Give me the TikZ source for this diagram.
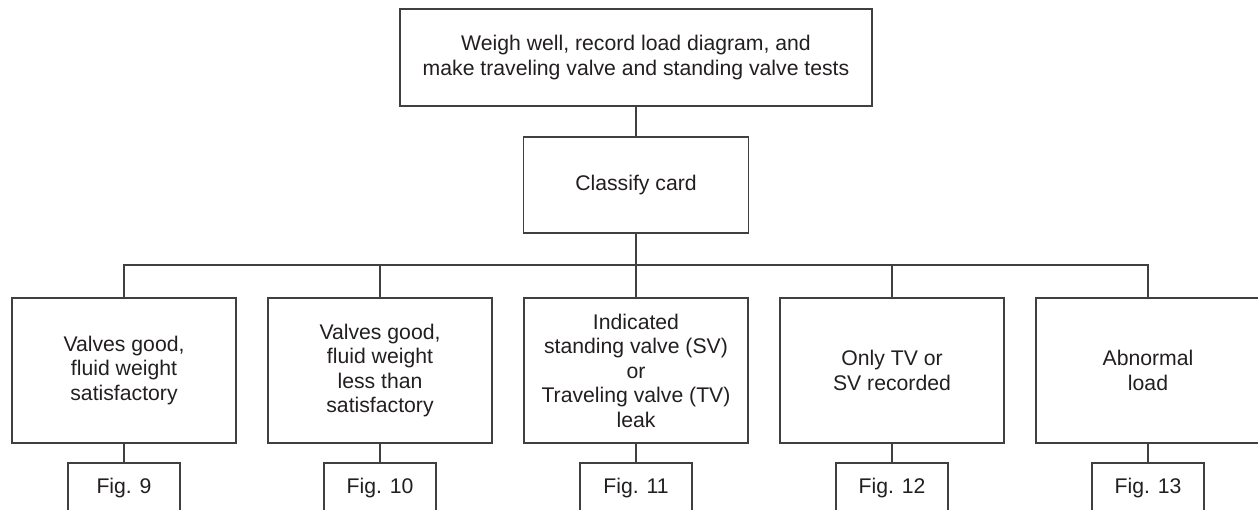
\documentclass[tikz,border=0pt]{standalone}
\usepackage{fontspec}
\setmainfont{Liberation Sans}
\definecolor{linecol}{HTML}{404040}
\definecolor{txtcol}{HTML}{231F20}
\begin{document}
\begin{tikzpicture}[x=1pt,y=-1pt,
  every node/.style={font=\fontsize{21.2}{24.5}\selectfont, text=txtcol, align=center, inner sep=0pt},
  box/.style={draw=linecol, line width=1.6pt, minimum width=#1},
  box/.default=224pt,
  conn/.style={draw=linecol, line width=1.6pt}]
\useasboundingbox (0,0) rectangle (1258,510);
\clip (0,0) rectangle (1258,510);
\fill[white] (0,0) rectangle (1258,510);
% top
\node[box=472pt, minimum height=97pt] (top) at (636,57.5) {Weigh well, record load diagram, and\\make traveling valve and standing valve tests};
\node[box=225pt, minimum height=96pt] (cls) at (636,185) {Classify card};
\coordinate (bus) at (636,265);
% row
\node[box, minimum height=145pt] (b1) at (124,370.5) {Valves good,\\fluid weight\\satisfactory};
\node[box, minimum height=145pt] (b2) at (380,370.5) {Valves good,\\fluid weight\\less than\\satisfactory};
\node[box, minimum height=145pt] (b3) at (636,370.5) {Indicated\\standing valve (SV)\\or\\Traveling valve (TV)\\leak};
\node[box, minimum height=145pt] (b4) at (892,370.5) {Only TV or\\SV recorded};
\node[box, minimum height=145pt] (b5) at (1148,370.5) {Abnormal\\load};
% figs
\node[box=112pt, minimum height=50pt] (f1) at (124,488) {Fig. 9};
\node[box=112pt, minimum height=50pt] (f2) at (380,488) {Fig. 10};
\node[box=112pt, minimum height=50pt] (f3) at (636,488) {Fig. 11};
\node[box=112pt, minimum height=50pt] (f4) at (892,488) {Fig. 12};
\node[box=112pt, minimum height=50pt] (f5) at (1148,488) {Fig. 13};
% connectors
\draw[conn] (top.south) -- (cls.north);
\draw[conn] (cls.south) -- (bus);
\draw[conn] (b1.north) -- (b1.north |- bus) -- (b5.north |- bus) -- (b5.north);
\foreach \i in {2,3,4}{\draw[conn] (b\i.north) -- (b\i.north |- bus);}
\foreach \i in {1,2,3,4,5}{\draw[conn] (b\i.south) -- (f\i.north);}
\end{tikzpicture}
\end{document}
